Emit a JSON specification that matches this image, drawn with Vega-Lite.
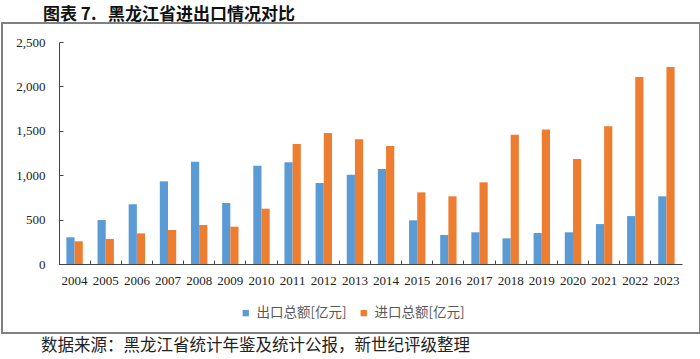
{
  "$schema": "https://vega.github.io/schema/vega-lite/v6.json",
  "padding": {"top": 6, "left": 1, "right": 0, "bottom": 0},
  "background": "white",
  "title": {
    "text": "图表 7.\u00a0\u00a0\u00a0黑龙江省进出口情况对比",
    "anchor": "start",
    "frame": "group",
    "dx": 41,
    "fontSize": 17,
    "font": "Noto Sans CJK SC",
    "fontWeight": "bold",
    "color": "#111111",
    "offset": -2
  },
  "config": {
    "view": {"stroke": "#808080", "strokeWidth": 2},
    "concat": {"spacing": 0}
  },
  "vconcat": [
    {
      "width": 698,
      "height": 310,
      "title": {
        "text": "数据来源：黑龙江省统计年鉴及统计公报，新世纪评级整理",
        "orient": "bottom",
        "anchor": "start",
        "frame": "group",
        "dx": 39,
        "fontSize": 16.5,
        "font": "Noto Sans CJK SC",
        "fontWeight": "normal",
        "color": "#222222",
        "offset": 5
      },
      "data": {
        "values": [
          {"year": "2004", "type": "出口总额[亿元]", "value": 302},
          {"year": "2004", "type": "进口总额[亿元]", "value": 256},
          {"year": "2005", "type": "出口总额[亿元]", "value": 495},
          {"year": "2005", "type": "进口总额[亿元]", "value": 281},
          {"year": "2006", "type": "出口总额[亿元]", "value": 672},
          {"year": "2006", "type": "进口总额[亿元]", "value": 345},
          {"year": "2007", "type": "出口总额[亿元]", "value": 931},
          {"year": "2007", "type": "进口总额[亿元]", "value": 383},
          {"year": "2008", "type": "出口总额[亿元]", "value": 1152},
          {"year": "2008", "type": "进口总额[亿元]", "value": 439},
          {"year": "2009", "type": "出口总额[亿元]", "value": 687},
          {"year": "2009", "type": "进口总额[亿元]", "value": 420},
          {"year": "2010", "type": "出口总额[亿元]", "value": 1107},
          {"year": "2010", "type": "进口总额[亿元]", "value": 623},
          {"year": "2011", "type": "出口总额[亿元]", "value": 1145},
          {"year": "2011", "type": "进口总额[亿元]", "value": 1351},
          {"year": "2012", "type": "出口总额[亿元]", "value": 912},
          {"year": "2012", "type": "进口总额[亿元]", "value": 1475},
          {"year": "2013", "type": "出口总额[亿元]", "value": 1006},
          {"year": "2013", "type": "进口总额[亿元]", "value": 1404},
          {"year": "2014", "type": "出口总额[亿元]", "value": 1070},
          {"year": "2014", "type": "进口总额[亿元]", "value": 1329},
          {"year": "2015", "type": "出口总额[亿元]", "value": 492},
          {"year": "2015", "type": "进口总额[亿元]", "value": 807},
          {"year": "2016", "type": "出口总额[亿元]", "value": 327},
          {"year": "2016", "type": "进口总额[亿元]", "value": 762},
          {"year": "2017", "type": "出口总额[亿元]", "value": 357},
          {"year": "2017", "type": "进口总额[亿元]", "value": 920},
          {"year": "2018", "type": "出口总额[亿元]", "value": 289},
          {"year": "2018", "type": "进口总额[亿元]", "value": 1456},
          {"year": "2019", "type": "出口总额[亿元]", "value": 349},
          {"year": "2019", "type": "进口总额[亿元]", "value": 1516},
          {"year": "2020", "type": "出口总额[亿元]", "value": 357},
          {"year": "2020", "type": "进口总额[亿元]", "value": 1182},
          {"year": "2021", "type": "出口总额[亿元]", "value": 450},
          {"year": "2021", "type": "进口总额[亿元]", "value": 1550},
          {"year": "2022", "type": "出口总额[亿元]", "value": 540},
          {"year": "2022", "type": "进口总额[亿元]", "value": 2106},
          {"year": "2023", "type": "出口总额[亿元]", "value": 762},
          {"year": "2023", "type": "进口总额[亿元]", "value": 2218}
        ]
      },
      "mark": {"type": "bar"},
      "encoding": {
        "x": {
          "field": "year",
          "type": "nominal",
          "scale": {"range": [57, 680], "paddingInner": 0, "paddingOuter": 0},
          "axis": {
            "title": null,
            "labelAngle": 0,
            "offset": -69,
            "bandPosition": 0,
            "tickSize": -4,
            "tickColor": "#444444",
            "domainColor": "#444444",
            "labelFont": "Liberation Serif",
            "labelFontSize": 13,
            "labelColor": "#222222",
            "labelPadding": 14,
            "grid": false
          }
        },
        "xOffset": {
          "field": "type",
          "type": "nominal",
          "sort": ["出口总额[亿元]", "进口总额[亿元]"],
          "scale": {"paddingInner": 0, "paddingOuter": 0.9}
        },
        "y": {
          "field": "value",
          "type": "quantitative",
          "scale": {"domain": [0, 2500], "range": [241, 19], "nice": false, "zero": true},
          "axis": {
            "title": null,
            "offset": -57,
            "values": [0, 500, 1000, 1500, 2000, 2500],
            "format": ",.0f",
            "tickSize": -4,
            "tickColor": "#444444",
            "domainColor": "#444444",
            "labelFont": "Liberation Serif",
            "labelFontSize": 13,
            "labelColor": "#222222",
            "labelPadding": 18,
            "grid": false
          }
        },
        "color": {
          "field": "type",
          "type": "nominal",
          "sort": ["出口总额[亿元]", "进口总额[亿元]"],
          "scale": {"domain": ["出口总额[亿元]", "进口总额[亿元]"], "range": ["#5B9BD5", "#ED7D31"]},
          "legend": {
            "title": null,
            "orient": "none",
            "direction": "horizontal",
            "legendX": 237,
            "legendY": 283,
            "symbolType": "square",
            "symbolSize": 40,
            "symbolStrokeWidth": 0,
            "labelFont": "Noto Sans CJK SC",
            "labelFontSize": 13.5,
            "labelColor": "#595959",
            "columnPadding": 10,
            "labelOffset": 4
          }
        }
      }
    }
  ]
}
